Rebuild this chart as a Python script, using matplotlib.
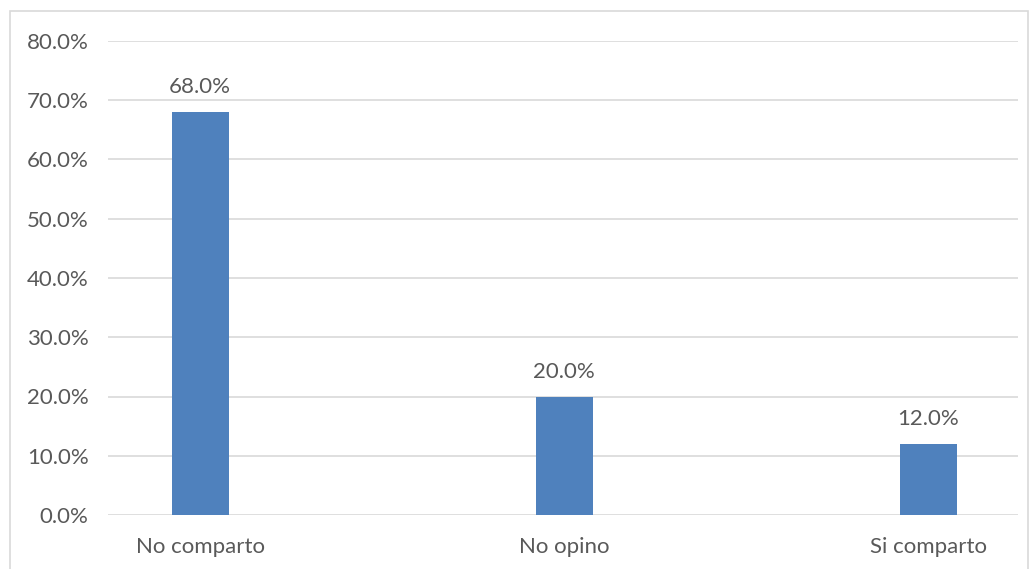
import numpy as np
import matplotlib.pyplot as plt
from matplotlib.patches import Rectangle
from matplotlib.ticker import FuncFormatter

categories = ["No comparto", "No opino", "Si comparto"]
values = [68.0, 20.0, 12.0]
yticks = [0, 10, 20, 30, 40, 50, 60, 70, 80]

text_color = "#595959"
bar_color = "#4F81BD"
grid_color = "#D9D9D9"
fs = 16

plt.rcParams['font.family'] = ['Lato', 'DejaVu Sans']

fig = plt.figure(figsize=(10.36, 5.69), dpi=100)
ax = fig.add_axes([108 / 1036, 1 - 515 / 569, 910 / 1036, 474 / 569])

x = np.arange(len(categories))
bars = ax.bar(x, values, width=0.157, color=bar_color, zorder=3)
for b, v in zip(bars, values):
    ax.text(b.get_x() + b.get_width() / 2, v + 2.5, f"{v:.1f}%",
            ha="center", va="bottom", fontsize=fs, color=text_color)

ax.set_xlim(-0.253, 2.247)
ax.set_ylim(0, 80)
ax.set_yticks(yticks)
ax.yaxis.set_major_formatter(FuncFormatter(lambda v, p: f"{v:.1f}%"))
ax.set_xticks(x)
ax.set_xticklabels(categories)
ax.tick_params(axis="both", length=0, labelsize=fs, labelcolor=text_color)
ax.tick_params(axis="y", pad=14)
ax.tick_params(axis="x", pad=16)
ax.grid(axis="y", color=grid_color, linewidth=1.2, zorder=0)
for s in ax.spines.values():
    s.set_visible(False)

# chart area border
fig.patches.append(Rectangle((10 / 1036, -0.01), 1018 / 1036, 1 - 11 / 569 + 0.01,
                             transform=fig.transFigure, fill=False,
                             edgecolor=grid_color, linewidth=1.2))

fig.savefig("out.png", dpi=100)
